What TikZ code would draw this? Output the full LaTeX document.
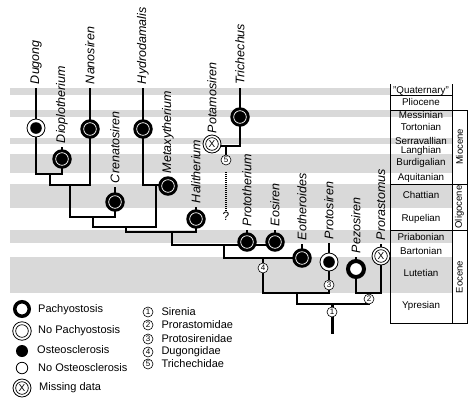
\documentclass[tikz,border=0pt]{standalone}
\usepackage{fontspec}
\setmainfont{Liberation Sans}
\usetikzlibrary{positioning,backgrounds}

\tikzset{
  band/.style={fill=gray!30},
  branch/.style={line width=1.4pt},
  tab/.style={line width=0.8pt},
  taxon/.style={rotate=90, anchor=west, inner sep=1.5pt, outer sep=2.5pt,
    font=\fontsize{12.5}{14}\selectfont\itshape},
  stage/.style={inner sep=0pt, font=\fontsize{9.8}{11}\selectfont},
  epoch/.style={rotate=90, inner sep=0pt, font=\fontsize{9.5}{11}\selectfont},
  legtext/.style={anchor=west, inner sep=0pt, font=\fontsize{11}{13}\selectfont},
  clade/.style={circle, draw, fill=white, line width=0.6pt, minimum size=10pt,
    inner sep=0pt, font=\fontsize{8}{9}\selectfont},
  % pachyostosis + osteosclerosis
  pachyost/.style={circle, fill=black, minimum size=19.5pt, inner sep=0pt,
    path picture={\draw[white, line width=0.7pt] (path picture bounding box.center) circle (6.3pt);}},
  % no pachyostosis + osteosclerosis
  nopachy/.style={circle, draw, fill=white, line width=0.8pt, minimum size=18pt, inner sep=0pt,
    path picture={\fill[black] (path picture bounding box.center) circle (5.8pt);}},
  % pachyostosis + no osteosclerosis
  pachyonly/.style={circle, draw, fill=white, line width=4pt, minimum size=16pt, inner sep=0pt},
  missing/.style={circle, draw, fill=white, line width=0.8pt, minimum size=18pt, inner sep=0pt,
    font=\fontsize{10}{10}\selectfont,
    path picture={\draw[line width=0.7pt] (path picture bounding box.center) circle (6.3pt);}},
  legpachy/.style={circle, draw, line width=3.5pt, minimum size=14.5pt},
  legnopachy/.style={circle, draw, line width=0.8pt, minimum size=18.5pt,
    path picture={\draw[line width=0.7pt] (path picture bounding box.center) circle (6.3pt);}},
  legosteo/.style={circle, fill=black, minimum size=12pt},
  legnoosteo/.style={circle, draw, line width=0.8pt, minimum size=11.5pt}
}

\begin{document}
\begin{tikzpicture}[x=1pt, y=-1pt]
  \useasboundingbox (0,0) rectangle (470,402);

  %taxon symbols
  \foreach \n/\x/\y in {dio/62/159, nan/90/129, cre/115/202, hyd/143/129, met/168/186,
                        hal/196/219, tri/240/117, prt/247/242, eos/275/242, eot/302/258}
    \node[pachyost] (\n) at (\x,\y) {};
  \node[nopachy] (dug) at (36,128) {};
  \node[nopachy] (pro) at (329,262) {};
  \node[pachyonly] (pez) at (356,269) {};
  \node[missing] (pot) at (212,144) {X};
  \node[missing] (prr) at (381,256) {X};

  %taxon names
  \foreach \n/\x/\y/\t in {dug/36/88/Dugong, dio/62/147/Dioplotherium, nan/90/88/Nanosiren,
                           cre/115/187/Crenatosiren, hyd/143/88/Hydrodamalis,
                           met/168/177/Metaxytherium, hal/196/207/Halitherium,
                           pot/212/137/Potamosiren, tri/240/88/Trichechus,
                           prt/247/230/Prototherium, eos/275/230/Eosiren,
                           eot/302/244/Eotheroides, pro/329/243/Protosiren,
                           pez/356/257/Pezosiren, prr/381/244/Prorastomus}
    \node[taxon] (\n-lab) at (\x,\y) {\t};

  % clade junctions
  \coordinate (c1) at (50,174);
  \coordinate (c2) at (70,185);
  \coordinate (c3) at (93,217);
  \coordinate (c4) at (156,185);
  \coordinate (c5) at (126,227);
  \coordinate (c6) at (172,232);
  \coordinate (c7) at (224,245);
  \coordinate (c8) at (263,258);
  \coordinate (c9) at (297,293);
  \coordinate (c10) at (369,293);
  \coordinate (c11) at (332,304);
  \coordinate (c12) at (226,146);
  \coordinate (root) at (332,334);
  \coordinate (dots) at (226,172);

  %numbered clades
  \node[clade] (n1) at (332,312) {1};
  \node[clade] (n2) at (369,299) {2};
  \node[clade] (n3) at (329,285) {3};
  \node[clade] (n4) at (263,268) {4};
  \node[clade] (n5) at (226,160) {5};
  \node[font=\fontsize{12}{12}\selectfont, inner sep=0pt] (qm) at (226,216) {?};

  \begin{scope}[on background layer]
    %time bands
    \fill[band] (10,88) rectangle (390,95);
    \foreach \a/\b in {110/117, 138/144, 154/173, 184/208, 230/243, 257/293}
      \fill[band] (10,\a) rectangle (452,\b);

    %draw tree
    \foreach \n in {dug,dio,nan,cre,hyd,met,hal,tri,prt,eos,eot,pro,pez,prr}
      \draw[branch] (\n-lab.west) -- (\n.center);
    \draw[branch] (dug.center) |- (c1) -| (dio.center);
    \draw[branch] (c1) |- (c2) -| (nan.center);
    \draw[branch] (c2) |- (c3) -| (cre.center);
    \draw[branch] (hyd.center) |- (c4) -| (met.center);
    \draw[branch] (c3) |- (c5) -| (c4);
    \draw[branch] (c5) |- (c6) -| (hal.center);
    \draw[branch] (c6) |- (c7) -- (c7 -| eos.center);
    \draw[branch] (c7) |- (eot.center);
    \draw[branch] (c8) |- (c9) -| (pro.center);
    \draw[branch] (pez.center) |- (c10) -| (prr.center);
    \draw[branch] (c9) |- (c11) -| (c10);
    \draw[line width=3pt] (c11) -- (root);
    \draw[branch] (tri.center) |- (c12) -| (pot.center);
    \draw[branch] (c12) -- (n5);
    \draw[line width=1.6pt, dash pattern=on 1pt off 1pt] (dots) -- (qm.north);
  \end{scope}

  %time scale
  \draw[tab] (390,84) -- (390,323) -- (467,323) -- (467,110) -- (390,110);
  \draw[tab] (452,84) -- (452,323);
  \draw[tab] (390,95) -- (452,95);
  \draw[tab] (390,184) -- (467,184) (390,230) -- (467,230);
  \foreach \t/\y [count=\i] in {"Quaternary"/91, Pliocene/102, Messinian/115, Tortonian/127,
                               Serravallian/141, Langhian/151, Burdigalian/163,
                               Aquitanian/178, Chattian/195, Rupelian/219, Priabonian/237,
                               Bartonian/251, Lutetian/273, Ypresian/306}
    \node[stage] (stage\i) at (421,\y) {\t};
  \node[epoch] (miocene) at (459.5,147) {Miocene};
  \node[epoch] (oligocene) at (459.5,207) {Oligocene};
  \node[epoch] (eocene) at (459.5,277) {Eocene};

  %legend
  \node[legpachy] (lg1) at (22,309) {};
  \node[legnopachy] (lg2) at (22,331) {};
  \node[legosteo] (lg3) at (22,351) {};
  \node[legnoosteo] (lg4) at (22,368) {};
  \node[missing] (lg5) at (22,388) {X};
  \node[legtext] at (38,310) {Pachyostosis};
  \node[legtext] at (38,331) {No Pachyostosis};
  \node[legtext] at (37,350) {Osteosclerosis};
  \node[legtext] at (38,368) {No Osteosclerosis};
  \node[legtext] at (39,388) {Missing data};
  \foreach \k/\y/\t in {1/312/Sirenia, 2/325/Prorastomidae, 3/339/Protosirenidae,
                        4/352/Dugongidae, 5/364/Trichechidae}
  {
    \node[clade] (key\k) at (148,\y) {\k};
    \node[legtext, right=8pt of key\k] {\t};
  }
\end{tikzpicture}
\end{document}
